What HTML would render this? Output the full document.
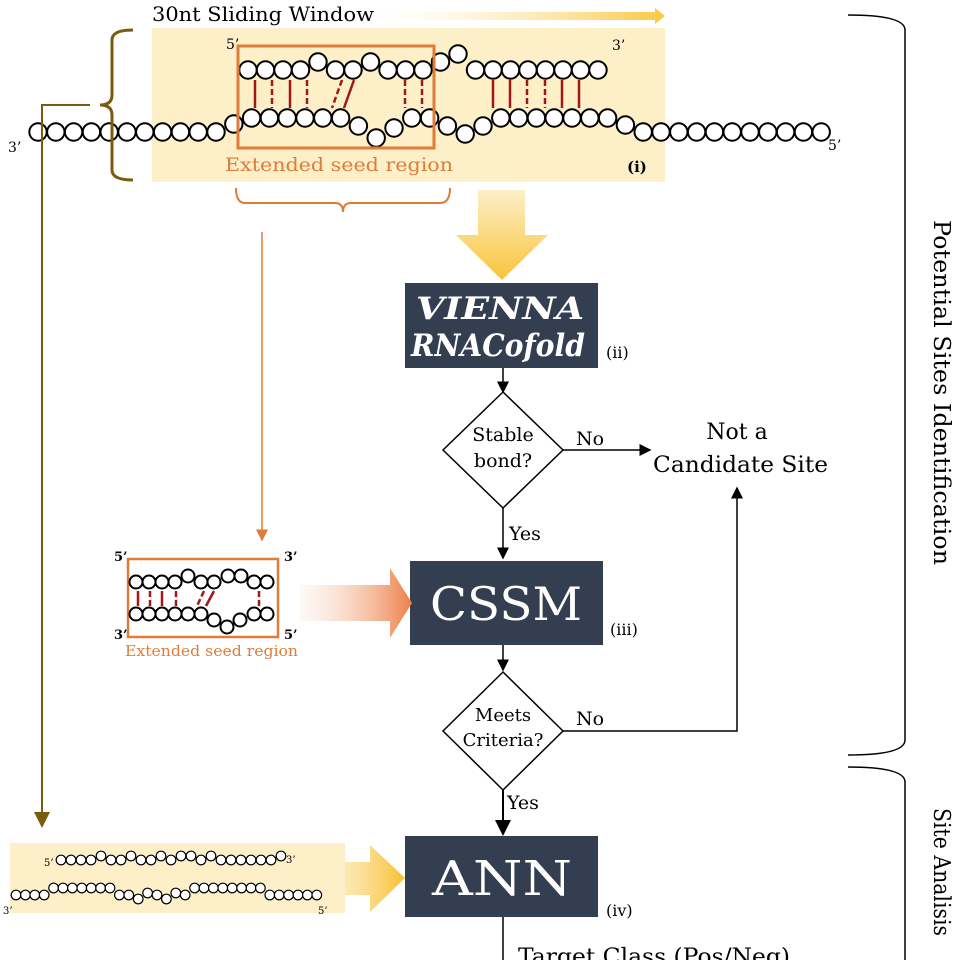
<!DOCTYPE html>
<html><head><meta charset="utf-8"><style>
body{margin:0;background:#fff;}
svg{display:block}
text{font-family:"DejaVu Serif","Liberation Serif",serif}
</style></head><body>
<svg id="s" width="960" height="960" viewBox="0 0 960 960" xmlns="http://www.w3.org/2000/svg">
<defs>
<linearGradient id="gy" x1="0" x2="1"><stop offset="0" stop-color="#fdf0c8" stop-opacity="0"/><stop offset="1" stop-color="#f9c842"/></linearGradient>
<linearGradient id="gv" x1="0" y1="0" x2="0" y2="1"><stop offset="0" stop-color="#fdefc8"/><stop offset="1" stop-color="#f8c43a"/></linearGradient>
<linearGradient id="go" x1="0" x2="1"><stop offset="0" stop-color="#fbe0d0" stop-opacity="0.2"/><stop offset="1" stop-color="#ec8048"/></linearGradient>
<linearGradient id="ga" x1="0" x2="1"><stop offset="0" stop-color="#fdf0c8" stop-opacity="0.2"/><stop offset="1" stop-color="#f7c030"/></linearGradient>
<marker id="ak" markerWidth="8" markerHeight="8" refX="7" refY="4" orient="auto"><path d="M0,0 L8,4 L0,8z" fill="#000"/></marker>
<marker id="ab" markerWidth="8" markerHeight="8" refX="7" refY="4" orient="auto"><path d="M0,0 L8,4 L0,8z" fill="#7a5c10"/></marker>
<marker id="ao" markerWidth="8" markerHeight="8" refX="7" refY="4" orient="auto"><path d="M0,0 L8,4 L0,8z" fill="#e07b39"/></marker>
</defs>
<text x="152" y="21" font-size="20" textLength="222" lengthAdjust="spacingAndGlyphs">30nt Sliding Window</text>
<polygon points="375,12 655,12 655,8 665,16 655,24 655,20 375,20" fill="url(#gy)"/>
<rect x="152" y="28" width="513" height="154" fill="#fdefc8"/>
<g id="top"></g>
<rect x="238" y="46" width="196" height="102" fill="none" stroke="#e07b39" stroke-width="3"/>
<text x="225" y="171" font-size="19" fill="#e07b39" textLength="228" lengthAdjust="spacingAndGlyphs">Extended seed region</text>
<text x="627" y="172" font-size="15" font-weight="bold" font-family="Liberation Sans">(i)</text>
<text x="226" y="49" font-size="14" font-family="Liberation Sans">5’</text>
<text x="612" y="50" font-size="14" font-family="Liberation Sans">3’</text>
<text x="8" y="152" font-size="14" font-family="Liberation Sans">3’</text>
<text x="828" y="150" font-size="14" font-family="Liberation Sans">5’</text>
<path d="M133,30 Q112,30 112,40 L112,95 Q112,105 100,105 Q112,105 112,115 L112,170 Q112,180 133,180" fill="none" stroke="#7a5c10" stroke-width="3"/>
<path d="M90,105 L42,105 L42,826" fill="none" stroke="#7a5c10" stroke-width="2" marker-end="url(#ab)"/>
<path d="M236,188 Q236,203 245,203 L335,203 Q343,203 343,212 Q343,203 351,203 L440,203 Q450,203 450,188" fill="none" stroke="#e07b39" stroke-width="2"/>
<line x1="262" y1="232" x2="262" y2="540" stroke="#e07b39" stroke-width="1.5" marker-end="url(#ao)"/>
<polygon points="478,190 525,190 525,235 548,235 502,280 456,235 478,235" fill="url(#gv)"/>
<rect x="405" y="283" width="193" height="85" fill="#333f50"/>
<text x="416" y="319" font-size="31" font-weight="bold" font-style="italic" fill="#fff" textLength="168" lengthAdjust="spacingAndGlyphs">VIENNA</text>
<text x="411" y="356" font-size="31" font-weight="bold" font-style="italic" fill="#fff" textLength="174" lengthAdjust="spacingAndGlyphs">RNACofold</text>
<text x="606" y="358" font-size="16">(ii)</text>
<line x1="503" y1="368" x2="503" y2="392" stroke="#000" stroke-width="1.5" marker-end="url(#ak)"/>
<polygon points="503,392 563,450 503,508 443,450" fill="#fff" stroke="#000" stroke-width="1.5"/>
<text x="503" y="441" font-size="19" text-anchor="middle">Stable</text>
<text x="503" y="467" font-size="19" text-anchor="middle">bond?</text>
<text x="576" y="445" font-size="19">No</text>
<line x1="563" y1="450" x2="650" y2="450" stroke="#000" stroke-width="1.5" marker-end="url(#ak)"/>
<text x="737" y="439" font-size="22" text-anchor="middle">Not a</text>
<text x="653" y="472" font-size="22" textLength="175" lengthAdjust="spacingAndGlyphs">Candidate Site</text>
<line x1="503" y1="508" x2="503" y2="558" stroke="#000" stroke-width="1.5" marker-end="url(#ak)"/>
<text x="509" y="540" font-size="19">Yes</text>
<rect x="410" y="561" width="193" height="84" fill="#333f50"/>
<text x="430" y="620" font-size="46" fill="#fff" textLength="152" lengthAdjust="spacingAndGlyphs">CSSM</text>
<text x="610" y="635" font-size="16">(iii)</text>
<polygon points="300,585 390,585 390,568 412,603 390,638 390,621 300,621" fill="url(#go)"/>
<rect x="128" y="559" width="150" height="78" fill="none" stroke="#e07b39" stroke-width="2.5"/>
<g id="mid"></g>
<text x="125" y="656" font-size="15" fill="#e07b39" textLength="173" lengthAdjust="spacingAndGlyphs">Extended seed region</text>
<text x="114" y="561" font-size="13" font-weight="bold" font-family="Liberation Sans">5’</text>
<text x="284" y="561" font-size="13" font-weight="bold" font-family="Liberation Sans">3’</text>
<text x="114" y="639" font-size="13" font-weight="bold" font-family="Liberation Sans">3’</text>
<text x="284" y="639" font-size="13" font-weight="bold" font-family="Liberation Sans">5’</text>
<line x1="503" y1="645" x2="503" y2="670" stroke="#000" stroke-width="1.5" marker-end="url(#ak)"/>
<polygon points="503,672 563,731 503,790 443,731" fill="#fff" stroke="#000" stroke-width="1.5"/>
<text x="503" y="721" font-size="18" text-anchor="middle">Meets</text>
<text x="503" y="746" font-size="18" text-anchor="middle">Criteria?</text>
<text x="576" y="725" font-size="19">No</text>
<path d="M563,731 L737,731 L737,488" fill="none" stroke="#000" stroke-width="1.5" marker-end="url(#ak)"/>
<line x1="503" y1="790" x2="503" y2="834" stroke="#000" stroke-width="2" marker-end="url(#ak)"/>
<text x="507" y="809" font-size="19">Yes</text>
<rect x="405" y="836" width="193" height="81" fill="#333f50"/>
<text x="432" y="895" font-size="48" fill="#fff" textLength="140" lengthAdjust="spacingAndGlyphs">ANN</text>
<text x="606" y="916" font-size="16">(iv)</text>
<polygon points="290,862 370,862 370,845 405,878 370,912 370,895 290,895" fill="url(#ga)"/>
<rect x="10" y="843" width="335" height="70" fill="#fdefc8"/>
<g id="bot"></g>
<text x="44" y="866" font-size="10">5’</text>
<text x="286" y="863" font-size="10">3’</text>
<text x="3" y="914" font-size="10">3’</text>
<text x="318" y="914" font-size="10">5’</text>
<line x1="503" y1="917" x2="503" y2="960" stroke="#000" stroke-width="1.5"/>
<text x="518" y="964" font-size="22" textLength="272" lengthAdjust="spacingAndGlyphs">Target Class (Pos/Neg)</text>
<path d="M848,15 Q905,15 905,30 L905,740 Q905,755 848,755" fill="none" stroke="#000" stroke-width="1.5"/>
<path d="M848,767 Q905,767 905,782 L905,960" fill="none" stroke="#000" stroke-width="1.5"/>
<text transform="translate(934,220) rotate(90)" font-size="23" textLength="345" lengthAdjust="spacingAndGlyphs">Potential Sites Identification</text>
<text transform="translate(934,808) rotate(90)" font-size="23" textLength="128" lengthAdjust="spacingAndGlyphs">Site Analisis</text>
</svg>
<script>
var NS="http://www.w3.org/2000/svg";
function c(g,x,y,r){var e=document.createElementNS(NS,"circle");e.setAttribute("cx",x);e.setAttribute("cy",y);e.setAttribute("r",r);e.setAttribute("fill","#fff");e.setAttribute("stroke","#000");e.setAttribute("stroke-width",r>5?2:1.2);g.appendChild(e);}
function l(g,x1,y1,x2,y2,d){var e=document.createElementNS(NS,"line");e.setAttribute("x1",x1);e.setAttribute("y1",y1);e.setAttribute("x2",x2);e.setAttribute("y2",y2);e.setAttribute("stroke","#a01818");e.setAttribute("stroke-width",2.5);if(d)e.setAttribute("stroke-dasharray","6,3");g.appendChild(e);}
var t=document.getElementById("top");
var ly={11:124,18:126,19:138,20:128,23:126,24:134,25:126,33:125};
for(var i=0;i<45;i++){var y=132;if(i>=12&&i<=32)y=118;if(ly[i])y=ly[i];c(t,38+i*17.8,y,8.7);}
var uy={4:62,7:62,11:62,12:54};
for(i=0;i<21;i++){c(t,248+i*17.5,uy[i]||70,8.7);}
[[255,0],[272,1],[290,0],[307,1],[405,1],[422,1],[493,0],[510,0],[527,1],[545,1],[562,0],[579,0]].forEach(function(p){l(t,p[0],80,p[0],108,p[1])});
l(t,342,80,332,108,1);l(t,354,80,344,108,0);
var m=document.getElementById("mid");
var mu=[[136,582],[149,582],[162,582],[175,582],[188,576],[201,582],[214,582],[228,576],[241,576],[254,582],[267,582]];
var ml=[[136,614],[149,614],[162,614],[175,614],[188,614],[201,614],[214,620],[227,627],[240,620],[254,614],[267,614]];
mu.concat(ml).forEach(function(p){c(m,p[0],p[1],6.5)});
[[138,0],[150,1],[162,0],[176,1],[259,1]].forEach(function(p){l(m,p[0],591,p[0],606,p[1])});
l(m,204,591,197,606,1);l(m,214,591,206,606,0);
var b=document.getElementById("bot");
var tu={4:1,7:1,10:1,12:1,13:1,15:1,22:1};
for(i=0;i<23;i++){c(b,61+i*10,tu[i]?856:860,4.8);}
for(i=0;i<33;i++){var y2=895;if((i>=4&&i<=10)||(i>=19&&i<=26))y2=888;if(i==13||i==16)y2=899;if(i==14||i==17)y2=893;c(b,16+i*9.4,y2,4.8);}
</script>
</body></html>
